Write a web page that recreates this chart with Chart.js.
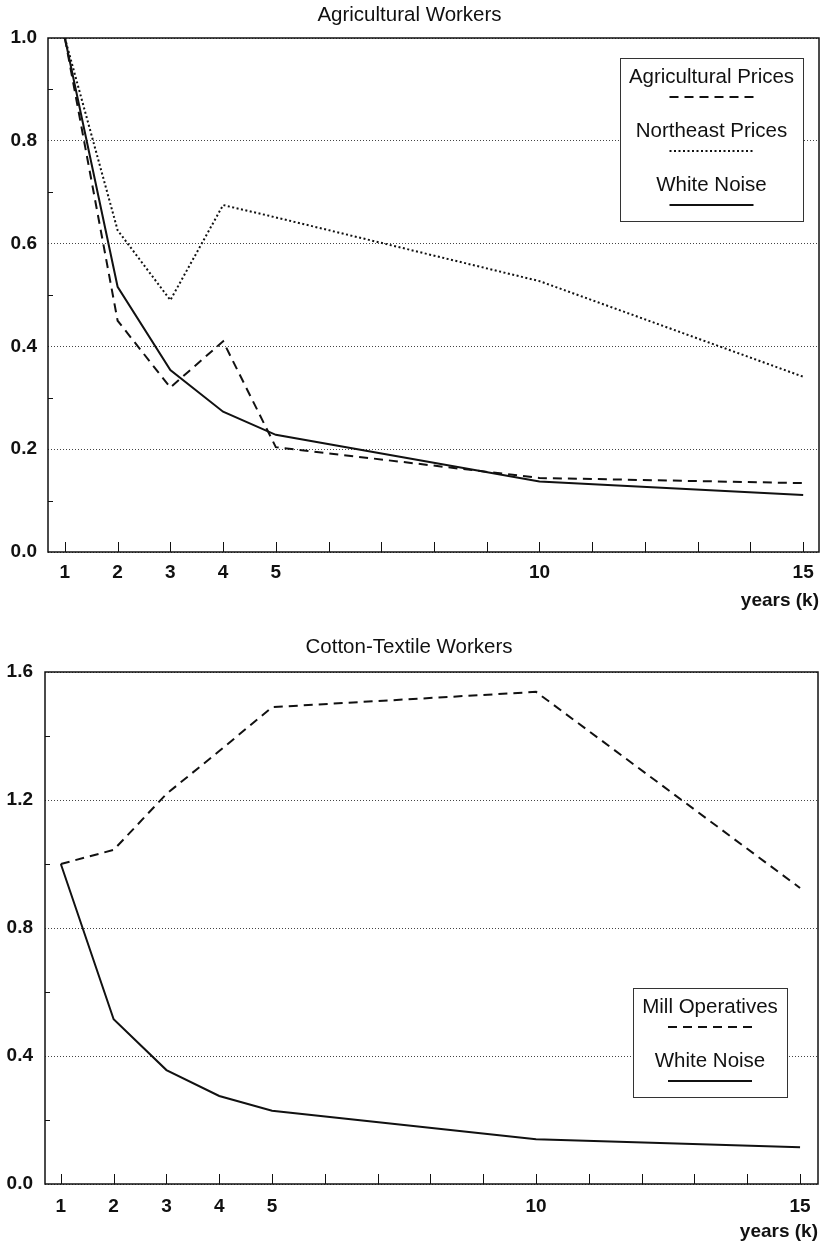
<!DOCTYPE html>
<html>
<head>
<meta charset="utf-8">
<script src="https://cdn.jsdelivr.net/npm/chart.js@4.4.1/dist/chart.umd.min.js"></script>
<style>
  html, body { margin: 0; padding: 0; background: #fff; }
  canvas { display: block; }
</style>
</head>
<body>
<canvas id="agri" width="826" height="620"></canvas>
<canvas id="cotton" width="826" height="625"></canvas>
<script>
// lag k (years) at which each autocorrelation was read
const years = [1, 2, 3, 4, 5, 10, 15];

// Agricultural Workers panel
const agriPrices = [1.0, 0.45, 0.32, 0.41, 0.204, 0.144, 0.134];
const northeastPrices = [1.0, 0.626, 0.49, 0.675, 0.651, 0.527, 0.341];
const whiteNoiseAgri = [1.0, 0.516, 0.354, 0.273, 0.228, 0.137, 0.111];

// Cotton-Textile Workers panel
const millOperatives = [1.0, 1.044, 1.219, 1.353, 1.49, 1.538, 0.925];
const whiteNoiseCotton = [1.0, 0.515, 0.356, 0.275, 0.229, 0.14, 0.115];

// axis ticks
const xTickValues = [1, 2, 3, 4, 5, 6, 7, 8, 9, 10, 11, 12, 13, 14, 15];
const xTickLabels = [1, 2, 3, 4, 5, 10, 15];
const yMinorAgri = [0.1, 0.3, 0.5, 0.7, 0.9];
const yMinorCotton = [0.2, 0.6, 1.0, 1.4];

Chart.defaults.font.family = '"Liberation Sans", Arial, sans-serif';
Chart.defaults.color = '#111';

const INK = '#111';
const DASHED = [9, 6];
const DOTTED = [2, 2.5];

const toPoints = (vals) => vals.map((v, i) => ({ x: years[i], y: v }));

// inward tick marks + plot frame
const framePlugin = {
  id: 'frame',
  afterDatasetsDraw(chart, args, opts) {
    const { ctx, chartArea: a, scales: { x, y } } = chart;
    ctx.save();
    ctx.strokeStyle = INK;
    ctx.lineWidth = 1;
    ctx.beginPath();
    xTickValues.forEach((v) => {
      const px = Math.round(x.getPixelForValue(v)) + 0.5;
      ctx.moveTo(px, a.bottom);
      ctx.lineTo(px, a.bottom - 10);
    });
    (opts.yMinor || []).forEach((v) => {
      const py = Math.round(y.getPixelForValue(v)) + 0.5;
      ctx.moveTo(a.left, py);
      ctx.lineTo(a.left + 5, py);
    });
    ctx.stroke();
    ctx.lineWidth = 1.5;
    ctx.strokeRect(a.left, a.top, a.width, a.height);
    ctx.restore();
  },
};

// boxed legend: label text with a line sample underneath
const boxLegend = {
  id: 'boxLegend',
  afterDraw(chart, args, opts) {
    const { ctx, chartArea: a } = chart;
    const sets = chart.data.datasets;
    ctx.save();
    ctx.font = '20.5px "Liberation Sans", Arial, sans-serif';
    const textW = Math.max(...sets.map((d) => ctx.measureText(d.label).width));
    const w = Math.round(textW + 18);
    const h = sets.length * 54 + 1;
    const left = Math.round(a.right - opts.right - w);
    const top = Math.round(a.top + opts.top);
    ctx.fillStyle = '#fff';
    ctx.fillRect(left, top, w, h);
    ctx.strokeStyle = '#333';
    ctx.lineWidth = 1;
    ctx.strokeRect(left + 0.5, top + 0.5, w, h);
    const cx = left + w / 2;
    sets.forEach((d, i) => {
      const rowTop = top + i * 54;
      ctx.fillStyle = INK;
      ctx.textAlign = 'center';
      ctx.textBaseline = 'middle';
      ctx.fillText(d.label, cx, rowTop + 19);
      ctx.beginPath();
      ctx.setLineDash(d.borderDash || []);
      ctx.lineWidth = d.borderWidth;
      ctx.strokeStyle = INK;
      ctx.moveTo(cx - 42, rowTop + 39);
      ctx.lineTo(cx + 42, rowTop + 39);
      ctx.stroke();
    });
    ctx.restore();
  },
};

function lineSet(label, vals, dash) {
  return {
    label,
    data: toPoints(vals),
    borderColor: INK,
    borderWidth: 2,
    borderDash: dash,
    pointRadius: 0,
    tension: 0,
    fill: false,
  };
}

function makeChart(id, cfg) {
  return new Chart(document.getElementById(id), {
    type: 'line',
    data: { datasets: cfg.datasets },
    options: {
      responsive: false,
      animation: false,
      layout: { padding: { left: 0, right: cfg.padRight, top: 0, bottom: 0 } },
      plugins: {
        legend: { display: false },
        tooltip: { enabled: false },
        title: {
          display: true,
          text: cfg.title,
          color: INK,
          font: { size: 20.5, weight: 'normal' },
          padding: cfg.titlePad,
        },
        frame: { yMinor: cfg.yMinor },
        boxLegend: cfg.legend,
      },
      scales: {
        x: {
          type: 'linear',
          min: cfg.xMin,
          max: cfg.xMax,
          afterBuildTicks: (s) => { s.ticks = xTickValues.map((v) => ({ value: v })); },
          afterFit: (s) => { s.height = cfg.xHeight; },
          grid: { display: false },
          border: { display: false },
          ticks: {
            autoSkip: false,
            maxRotation: 0,
            padding: cfg.xTickPad,
            font: { size: 19, weight: 'bold' },
            color: INK,
            callback: (v) => (xTickLabels.includes(v) ? String(v) : ''),
          },
          title: {
            display: true,
            text: 'years (k)',
            align: 'end',
            color: INK,
            font: { size: 19, weight: 'bold' },
            padding: { top: 0, bottom: cfg.xTitlePad },
          },
        },
        y: {
          min: 0,
          max: cfg.yMax,
          afterFit: (s) => { s.width = cfg.yWidth; },
          grid: { color: '#444', lineWidth: 1, drawTicks: false },
          border: { display: false, dash: [1, 2] },
          ticks: {
            stepSize: cfg.yStep,
            padding: cfg.yTickPad,
            font: { size: 19, weight: 'bold' },
            color: INK,
            callback: (v) => Number(v).toFixed(1),
          },
        },
      },
    },
    plugins: [framePlugin, boxLegend],
  });
}

makeChart('agri', {
  title: 'Agricultural Workers',
  titlePad: { top: 3, bottom: 10.4 },
  datasets: [
    lineSet('Agricultural Prices', agriPrices, DASHED),
    lineSet('Northeast Prices', northeastPrices, DOTTED),
    lineSet('White Noise', whiteNoiseAgri, []),
  ],
  xMin: 0.68,
  xMax: 15.3,
  yMax: 1.0,
  yStep: 0.2,
  yMinor: yMinorAgri,
  yWidth: 48,
  yTickPad: 11,
  xHeight: 68,
  xTickPad: 1,
  xTitlePad: 7.6,
  padRight: 7,
  legend: { right: 16, top: 20 },
});

makeChart('cotton', {
  title: 'Cotton-Textile Workers',
  titlePad: { top: 15, bottom: 12.4 },
  datasets: [
    lineSet('Mill Operatives', millOperatives, DASHED),
    lineSet('White Noise', whiteNoiseCotton, []),
  ],
  xMin: 0.7,
  xMax: 15.34,
  yMax: 1.6,
  yStep: 0.4,
  yMinor: yMinorCotton,
  yWidth: 45,
  yTickPad: 12,
  xHeight: 61,
  xTickPad: 3,
  xTitlePad: 1.6,
  padRight: 8,
  legend: { right: 31, top: 316 },
});
</script>
</body>
</html>
